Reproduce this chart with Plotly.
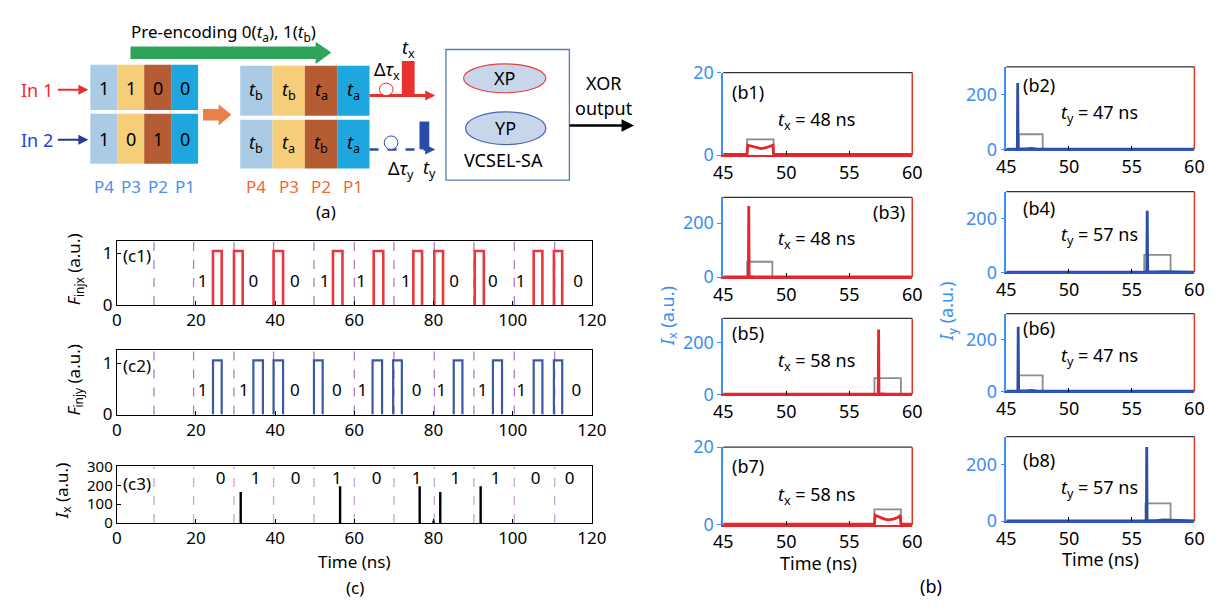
import plotly.graph_objects as go

W, H = 1228, 609
FONT = "Noto Sans"

# ---------------- data: panel (c) ----------------
c_xticks = [0, 20, 40, 60, 80, 100, 120]
bit_bounds = [9.4, 19.4, 29.6, 39.6, 49.8, 60.0, 70.0, 80.2, 90.2, 100.4, 110.6]

c1_on = [24.3, 29.6, 39.6, 54.6, 64.9, 74.9, 80.2, 90.4, 105.3, 110.4]
c1_off = [26.5, 31.8, 42.0, 57.0, 67.3, 77.1, 82.4, 92.7, 107.5, 112.5]
c1_level = 1.05
c1_bit_x = [21.7, 34.5, 45.0, 52.5, 61.7, 73.0, 85.2, 95.0, 102.0, 116.5]
c1_bits = ["1", "0", "0", "1", "1", "1", "0", "0", "1", "0"]

c2_on = [24.3, 34.5, 39.6, 49.8, 64.6, 69.8, 85.1, 95.0, 105.3, 110.4]
c2_off = [26.5, 36.9, 42.0, 52.0, 67.0, 72.0, 87.3, 97.3, 107.5, 112.5]
c2_level = 1.05
c2_bit_x = [21.7, 32.1, 45.0, 55.6, 62.0, 75.7, 82.0, 92.4, 102.2, 116.1]
c2_bits = ["1", "1", "0", "0", "1", "0", "1", "1", "1", "0"]

c3_spike_t = [31.3, 56.4, 76.5, 80.0, 81.7, 91.9]
c3_spike_h = [165, 195, 195, 12, 165, 195]
c3_bit_x = [26.2, 35.1, 45.2, 55.6, 65.6, 75.7, 85.5, 95.7, 105.8, 114.4]
c3_bits = ["0", "1", "0", "1", "0", "1", "1", "1", "0", "0"]

# ---------------- data: panel (b) ----------------
b_xticks = [45, 50, 55, 60]
b1_t = [45, 46.9, 46.95, 47.3, 47.6, 48.0, 48.4, 48.7, 48.95, 49.0, 60]
b1_I = [0.2, 0.2, 2.4, 2.1, 1.8, 1.6, 1.8, 2.1, 2.4, 0.2, 0.2]
b3_t = [45, 47.0, 47.03, 47.06, 47.5, 60]
b3_I = [1, 1, 263, 3, 1, 1]
b5_t = [45, 57.3, 57.33, 57.36, 58.0, 60]
b5_I = [1, 1, 252, 3, 1, 1]
b7_t = [45, 57.0, 57.05, 57.4, 57.8, 58.1, 58.5, 58.9, 59.05, 59.1, 60]
b7_I = [0.2, 0.2, 2.5, 2.0, 1.5, 1.3, 1.5, 2.0, 2.5, 0.2, 0.2]
b2_t = [45, 45.88, 45.91, 45.94, 46.5, 47.0, 47.5, 60]
b2_I = [1, 1, 241, 3, 2, 4, 1, 1]
b4_t = [45, 56.2, 56.24, 56.28, 57.0, 57.5, 60]
b4_I = [1, 1, 229, 3, 2, 3, 1]
b6_t = [45, 45.92, 45.95, 45.98, 46.5, 47.0, 47.5, 60]
b6_I = [1, 1, 250, 3, 2, 4, 1, 1]
b8_t = [45, 56.17, 56.2, 56.23, 57.0, 57.5, 60]
b8_I = [1, 1, 263, 3, 2, 4, 1]

b_rect_start = {"b1": 46.9, "b3": 46.9, "b5": 57.0, "b7": 57.0, "b2": 46.0, "b4": 56.0, "b6": 46.0, "b8": 56.1}
b_rect_end = {"b1": 49.0, "b3": 48.9, "b5": 59.1, "b7": 59.1, "b2": 47.9, "b4": 58.1, "b6": 47.9, "b8": 58.1}
b_rect_h = {"b1": 3.8, "b3": 57, "b5": 63, "b7": 4.0, "b2": 55, "b4": 65, "b6": 62, "b8": 63}
b_tval = {"b1": "<i>t</i><sub>x</sub> = 48 ns", "b3": "<i>t</i><sub>x</sub> = 48 ns",
          "b5": "<i>t</i><sub>x</sub> = 58 ns", "b7": "<i>t</i><sub>x</sub> = 58 ns",
          "b2": "<i>t</i><sub>y</sub> = 47 ns", "b4": "<i>t</i><sub>y</sub> = 57 ns",
          "b6": "<i>t</i><sub>y</sub> = 47 ns", "b8": "<i>t</i><sub>y</sub> = 57 ns"}

RED = "#e5262c"
BLUE = "#2d4ea2"
LBLUE = "#3b8ef3"
GRAY = "#8c8c8c"
PURP = "#b07cc8"


def px(x):
    return x / W


def py(y):
    return 1 - y / H


fig = go.Figure()
ann = []
shapes = []


def txt(x, y, s, size=17, color="black", **kw):
    d = dict(x=px(x), y=py(y), xref="paper", yref="paper", text=s, showarrow=False,
             font=dict(family=FONT, size=size, color=color), xanchor="center", yanchor="middle")
    d.update(kw)
    ann.append(d)


layout_axes = {}

# ---------------- panel (c) ----------------
c_specs = [
    (1, 237, 304, [0, 1.25], [0, 1], "<i>F</i><sub>injx</sub> (a.u.)", 267, 66, 17),
    (2, 351, 418, [0, 1.25], [0, 1], "<i>F</i><sub>injy</sub> (a.u.)", 382, 66, 17),
    (3, 472, 531, [0, 300], [0, 100, 200, 300], "<i>I</i><sub>x</sub> (a.u.)", 497, 53, 15),
]
ann_panel_c = [("(c1)", 252), ("(c2)", 367), ("(c3)", 490)]
for (idx, top, bot, yr, yt, yl, yty, ytx, yfs), (pl, ply) in zip(c_specs, ann_panel_c):
    xn = "xaxis" if idx == 1 else f"xaxis{idx}"
    yn = "yaxis" if idx == 1 else f"yaxis{idx}"
    sfx = "" if idx == 1 else str(idx)
    layout_axes[xn] = dict(domain=[px(109), px(594)], range=[0, 120], anchor="y" + sfx,
                           tickvals=c_xticks, ticks="inside", ticklen=4, tickcolor="black",
                           showline=True, mirror=True, linecolor="black", linewidth=1,
                           showgrid=False, zeroline=False,
                           tickfont=dict(family=FONT, size=17, color="black"))
    layout_axes[yn] = dict(domain=[py(bot), py(top)], range=yr, anchor="x" + sfx,
                           tickvals=yt, ticks="inside", ticklen=4, tickcolor="black",
                           showline=True, mirror=True, linecolor="black", linewidth=1,
                           showgrid=False, zeroline=False,
                           tickfont=dict(family=FONT, size=yfs, color="black"))
    txt(ytx, yty, yl, size=17, textangle=-90)
    txt(113, ply, pl, size=17, xanchor="left")
    for v in bit_bounds:
        shapes.append(dict(type="line", xref="x" + sfx, yref=f"y{sfx} domain", x0=v, x1=v, y0=0, y1=1,
                           line=dict(color=PURP if idx < 3 else "#c9a3d9", width=1.3, dash="dash"), layer="below"))


def pulses(on, off, level):
    xs, ys = [], []
    for s, e in zip(on, off):
        xs += [s, s, e, e, None]
        ys += [0, level, level, 0, None]
    return xs, ys


xs, ys = pulses(c1_on, c1_off, c1_level)
fig.add_trace(go.Scatter(x=xs, y=ys, mode="lines", line=dict(color="#e8383d", width=2.6), xaxis="x", yaxis="y"))
fig.add_trace(go.Scatter(x=c1_bit_x, y=[0.43] * len(c1_bit_x), text=c1_bits, mode="text",
                         textfont=dict(family=FONT, size=17, color="black"), xaxis="x", yaxis="y"))
xs, ys = pulses(c2_on, c2_off, c2_level)
fig.add_trace(go.Scatter(x=xs, y=ys, mode="lines", line=dict(color="#3a5aa5", width=2.2), xaxis="x2", yaxis="y2"))
fig.add_trace(go.Scatter(x=c2_bit_x, y=[0.45] * len(c2_bit_x), text=c2_bits, mode="text",
                         textfont=dict(family=FONT, size=17, color="black"), xaxis="x2", yaxis="y2"))
sx, sy = [], []
for t, h in zip(c3_spike_t, c3_spike_h):
    sx += [t, t, None]
    sy += [0, h, None]
fig.add_trace(go.Scatter(x=sx, y=sy, mode="lines", line=dict(color="black", width=2.4), xaxis="x3", yaxis="y3"))
fig.add_trace(go.Scatter(x=c3_bit_x, y=[232] * len(c3_bit_x), text=c3_bits, mode="text",
                         textfont=dict(family=FONT, size=17, color="black"), xaxis="x3", yaxis="y3"))

txt(352, 571, "Time (ns)", size=17)
txt(352, 598, "(c)", size=17)

# ---------------- panel (b) ----------------
b_specs = [
    ("b1", 4, 728, 921, 62, 148, [0, 20], [0, 20], (b1_t, b1_I), RED),
    ("b3", 5, 728, 921, 192, 275, [0, 295], [0, 200], (b3_t, b3_I), RED),
    ("b5", 6, 728, 921, 318, 397, [0, 295], [0, 200], (b5_t, b5_I), RED),
    ("b7", 7, 728, 921, 452, 533, [0, 20], [0, 20], (b7_t, b7_I), RED),
    ("b2", 8, 1017, 1209, 56, 142, [0, 300], [0, 200], (b2_t, b2_I), BLUE),
    ("b4", 9, 1017, 1209, 186, 270, [0, 300], [0, 200], (b4_t, b4_I), BLUE),
    ("b6", 10, 1017, 1209, 313, 394, [0, 300], [0, 200], (b6_t, b6_I), BLUE),
    ("b8", 11, 1017, 1209, 441, 529, [0, 300], [0, 200], (b8_t, b8_I), BLUE),
]
b_label_pos = {"b1": (753, 82), "b3": (897, 207), "b5": (753, 333), "b7": (753, 472),
               "b2": (1050, 75), "b4": (1050, 203), "b6": (1050, 328), "b8": (1050, 465)}
b_text_pos = {"b1": (823, 112), "b3": (823, 236), "b5": (823, 363), "b7": (823, 502),
              "b2": (1112, 105), "b4": (1112, 232), "b6": (1112, 358), "b8": (1112, 495)}

for name, idx, l, r, top, bot, yr, yt, (tt, II), col in b_specs:
    sfx = str(idx)
    botcol = RED if col == RED else "#2d55c8"
    layout_axes[f"xaxis{idx}"] = dict(domain=[px(l), px(r)], range=[45, 60], anchor="y" + sfx,
                                      tickvals=b_xticks, ticks="inside", ticklen=4, tickcolor="black",
                                      showline=True, linecolor=botcol, linewidth=1.5, mirror=False,
                                      showgrid=False, zeroline=False,
                                      tickfont=dict(family=FONT, size=18, color="black"))
    layout_axes[f"yaxis{idx}"] = dict(domain=[py(bot), py(top)], range=yr, anchor="x" + sfx,
                                      tickvals=yt, ticks="outside", ticklen=4, tickcolor=LBLUE,
                                      showline=True, linecolor=LBLUE, linewidth=1.5, mirror=False,
                                      showgrid=False, zeroline=False,
                                      tickfont=dict(family=FONT, size=18, color=LBLUE))
    shapes.append(dict(type="line", xref=f"x{sfx} domain", yref=f"y{sfx} domain", x0=0, x1=1, y0=1, y1=1,
                       line=dict(color="#333333", width=1.2)))
    shapes.append(dict(type="line", xref=f"x{sfx} domain", yref=f"y{sfx} domain", x0=1, x1=1, y0=0, y1=1,
                       line=dict(color="#e03a22", width=1.5)))
    a, b_, h = b_rect_start[name], b_rect_end[name], b_rect_h[name]
    fig.add_trace(go.Scatter(x=[a, a, b_, b_], y=[0, h, h, 0], mode="lines",
                             line=dict(color=GRAY, width=1.8), xaxis="x" + sfx, yaxis="y" + sfx))
    fig.add_trace(go.Scatter(x=tt, y=II, mode="lines", line=dict(color=col, width=2.8),
                             xaxis="x" + sfx, yaxis="y" + sfx))
    lx_, ly_ = b_label_pos[name]
    txt(lx_, ly_, f"({name})", size=18)
    tx, ty = b_text_pos[name]
    txt(tx, ty, b_tval[name], size=18)

txt(672, 315, "<i>I</i><sub>x</sub> (a.u.)", size=18, color=LBLUE, textangle=-90)
txt(957, 311, "<i>I</i><sub>y</sub> (a.u.)", size=18, color=LBLUE, textangle=-90)
txt(825, 573, "Time (ns)", size=18)
txt(1113, 568, "Time (ns)", size=18)
txt(940, 597, "(b)", size=18)


# ---------------- panel (a): schematic ----------------
def rect(x0, y0, x1, y1, fill, line=None, lw=0):
    shapes.append(dict(type="rect", xref="paper", yref="paper", x0=px(x0), x1=px(x1), y0=py(y1), y1=py(y0),
                       fillcolor=fill, line=dict(width=lw, color=line or fill), layer="above"))


def poly(points, fill):
    p = "M " + " L ".join(f"{px(x):.5f},{py(y):.5f}" for x, y in points) + " Z"
    shapes.append(dict(type="path", xref="paper", yref="paper", path=p, fillcolor=fill,
                       line=dict(width=0), layer="above"))


def arrow(x0, y0, x1, y1, color, width=2, head=2, size=1):
    ann.append(dict(x=px(x1), y=py(y1), ax=x0 - x1, ay=y0 - y1, xref="paper", yref="paper",
                    axref="pixel", ayref="pixel", text="", showarrow=True, arrowhead=head,
                    arrowsize=size, arrowwidth=width, arrowcolor=color))


cell_cols = ["#a9cbe6", "#f6cd78", "#b65c34", "#1ea7df"]

txt(218, 20, "Pre-encoding 0(<i>t</i><sub>a</sub>), 1(<i>t</i><sub>b</sub>)", size=17)
poly([(123, 35), (312, 35), (312, 30), (328, 41), (312, 53), (312, 48), (123, 48)], "#2ea35a")

txt(28, 80, "In 1", size=18, color="#e8302c")
txt(28, 132, "In 2", size=18, color="#2840d8")
arrow(48, 80, 80, 80, "#e8302c", width=2)
arrow(48, 132, 80, 132, "#2a3b8f", width=2)

lx = [82, 109.5, 137, 164.5, 192]
row1 = ["1", "1", "0", "0"]
row2 = ["1", "0", "1", "0"]
for i in range(4):
    rect(lx[i], 54, lx[i + 1], 101, cell_cols[i])
    rect(lx[i], 105, lx[i + 1], 157, cell_cols[i])
    txt((lx[i] + lx[i + 1]) / 2, 78, row1[i], size=18)
    txt((lx[i] + lx[i + 1]) / 2, 131, row2[i], size=18)
    txt((lx[i] + lx[i + 1]) / 2, 181, f"P{4 - i}", size=17, color="#4a8ff0")

poly([(197, 100), (213, 100), (213, 95), (226, 106), (213, 117), (213, 112), (197, 112)], "#e8804a")

rx = [235, 268, 301, 334, 367]
r1 = ["b", "b", "a", "a"]
r2 = ["b", "a", "b", "a"]
for i in range(4):
    rect(rx[i], 55, rx[i + 1], 107, cell_cols[i])
    rect(rx[i], 111, rx[i + 1], 162, cell_cols[i])
    txt((rx[i] + rx[i + 1]) / 2, 81, f"<i>t</i><sub>{r1[i]}</sub>", size=18)
    txt((rx[i] + rx[i + 1]) / 2, 136, f"<i>t</i><sub>{r2[i]}</sub>", size=18)
    txt((rx[i] + rx[i + 1]) / 2, 181, f"P{4 - i}", size=17, color="#f06a2a")

txt(323, 207, "(a)", size=17)

# red channel
shapes.append(dict(type="line", xref="paper", yref="paper", x0=px(367), x1=px(430), y0=py(86), y1=py(86),
                   line=dict(color="#e8302c", width=3)))
arrow(425, 86, 434, 86, "#e8302c", width=2, head=2)
shapes.append(dict(type="circle", xref="paper", yref="paper", x0=px(377), x1=px(391), y0=py(86), y1=py(73),
                   line=dict(color="#e8302c", width=1), fillcolor="white"))
rect(400, 50, 413, 86, "#e8302c")
txt(385, 60, "Δ<i>τ</i><sub>x</sub>", size=18)
txt(407, 37, "<i>t</i><sub>x</sub>", size=18)

# blue channel
shapes.append(dict(type="line", xref="paper", yref="paper", x0=px(367), x1=px(430), y0=py(142), y1=py(142),
                   line=dict(color="#2a4ba8", width=2.5, dash="dash")))
arrow(425, 142, 434, 142, "#2a4ba8", width=2, head=2)
shapes.append(dict(type="circle", xref="paper", yref="paper", x0=px(382), x1=px(396), y0=py(142), y1=py(128),
                   line=dict(color="#2a4ba8", width=1), fillcolor="white"))
rect(418, 113, 428, 142, "#2a4ba8")
txt(399, 163, "Δ<i>τ</i><sub>y</sub>", size=18)
txt(428, 162, "<i>t</i><sub>y</sub>", size=18)

# VCSEL-SA box
shapes.append(dict(type="rect", xref="paper", yref="paper", x0=px(445), x1=px(571), y0=py(174), y1=py(38),
                   line=dict(color="#5a7ab0", width=1.3), fillcolor="white"))
shapes.append(dict(type="circle", xref="paper", yref="paper", x0=px(463), x1=px(547), y0=py(83), y1=py(53),
                   line=dict(color="#e04040", width=1.2), fillcolor="#c8d6ec"))
shapes.append(dict(type="circle", xref="paper", yref="paper", x0=px(465), x1=px(547), y0=py(137), y1=py(103),
                   line=dict(color="#4a64b8", width=1.2), fillcolor="#c8d6ec"))
txt(505, 68, "XP", size=18)
txt(506, 120, "YP", size=18)
txt(504, 153, "VCSEL-SA", size=18)
txt(606, 73, "XOR", size=18)
txt(606, 99, "output", size=18)
arrow(571, 117, 637, 117, "black", width=2.5, head=2)

fig.update_layout(
    width=W, height=H, margin=dict(l=0, r=0, t=0, b=0),
    paper_bgcolor="white", plot_bgcolor="white", showlegend=False,
    annotations=ann, shapes=shapes, **layout_axes,
)
fig.write_html("out.html")
